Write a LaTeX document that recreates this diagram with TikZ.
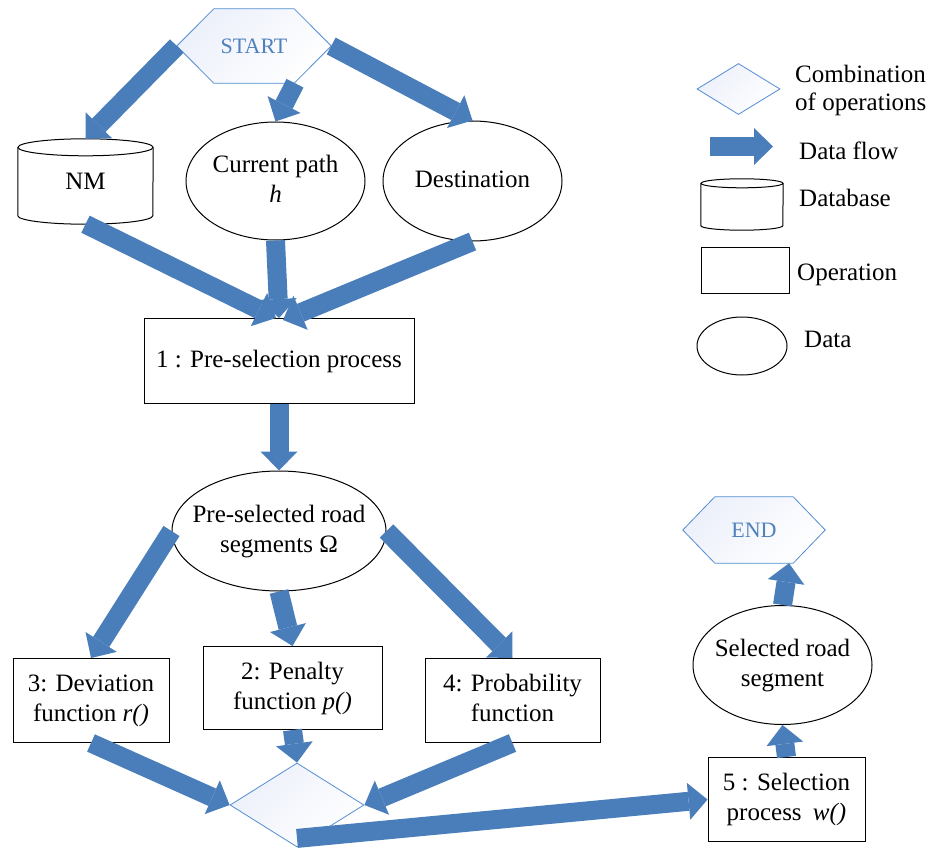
\documentclass[tikz,border=0pt]{standalone}
\usepackage{fontspec}
\setmainfont{Liberation Serif}
\usetikzlibrary{arrows.meta,shapes.geometric}

\definecolor{flowblue}{RGB}{74,126,187}
\definecolor{hexline}{RGB}{84,141,212}
\definecolor{hextext}{RGB}{79,129,189}
\definecolor{hexfill}{RGB}{236,240,250}

\pgfdeclarelayer{back}
\pgfsetlayers{back,main}

% centred multi-line text that does not widen its node
\newcommand\zw[1]{\makebox[0pt]{\begin{tabular}{@{}c@{}}#1\end{tabular}}}

% cylinder outline around a rectangular node: node, half width, cap radius
\newcommand\dbdraw[3]{%
  \draw[line width=1pt] ([yshift=-#3pt]#1.north west) -- ([yshift=#3pt]#1.south west)
    arc[start angle=180,end angle=360,x radius=#2,y radius=#3] -- ([yshift=-#3pt]#1.north east);
  \draw[line width=1pt] ([yshift=-#3pt]#1.north) ellipse[x radius=#2,y radius=#3];}

% pointed hexagon around a node: node, horizontal inset
\newcommand\hexdraw[2]{%
  \path[hexpath] (#1.west) -- ([xshift=#2pt]#1.north west) -- ([xshift=-#2pt]#1.north east)
    -- (#1.east) -- ([xshift=-#2pt]#1.south east) -- ([xshift=#2pt]#1.south west) -- cycle;}

\begin{document}
\begin{tikzpicture}[x=1pt,y=1pt,
  every node/.style={font=\fontsize{25}{30}\selectfont, inner sep=0pt},
  proc/.style={draw, line width=1pt, rectangle, fill=white},
  datum/.style={draw, line width=1pt, ellipse, fill=white},
  dbase/.style={rectangle, draw=none},
  hexnode/.style={rectangle, draw=none, text=hextext, font=\fontsize{22}{26}\selectfont},
  combo/.style={diamond, draw=hexline, line width=0.8pt, top color=hexfill, bottom color=white, shading angle=45},
  hexpath/.style={draw=hexline, line width=0.8pt, top color=hexfill, bottom color=white, shading angle=45},
  flow/.style={draw=flowblue, line width=19pt, -{Triangle[length=19pt,width=37pt,line width=0pt]}},
  legtext/.style={anchor=west, align=left, font=\fontsize{25}{28}\selectfont},
]
\useasboundingbox (0,0) rectangle (932,-848);
\begin{pgfonlayer}{back}
  \fill[white] (0,0) rectangle (932,-848);
\end{pgfonlayer}

% ---- main flow ----
\node[hexnode, minimum width=154pt, minimum height=74pt] (start) at (254,-46) {START};
\node[dbase, minimum width=135pt, minimum height=85pt] (nm) at (85.5,-181.5) {NM};
\node[datum, minimum width=179pt, minimum height=118pt] (cur) at (275.5,-181) {\zw{Current path\\\textit{h}}};
\node[datum, minimum width=179pt, minimum height=120pt] (dest) at (472.5,-181) {\zw{Destination}};
\node[proc, minimum width=270pt, minimum height=85pt] (sel1) at (279,-361) {1 : Pre-selection process};
\node[datum, minimum width=214pt, minimum height=120pt] (omega) at (279,-531) {\zw{Pre-selected road\\segments Ω}};
\node[proc, minimum width=156pt, minimum height=84pt] (dev) at (91,-700.5) {\zw{3: Deviation\\function \textit{r()}}};
\node[proc, minimum width=179pt, minimum height=83pt] (pen) at (292.5,-688) {\zw{2: Penalty\\function \textit{p()}}};
\node[proc, minimum width=175pt, minimum height=84pt] (prob) at (512.5,-700.5) {\zw{4: Probability\\function}};
\node[combo, minimum width=134pt, minimum height=84pt] (comb) at (297,-805) {};
\node[proc, minimum width=157pt, minimum height=84pt] (selp) at (786.5,-799.5) {\zw{5 : Selection\\process\hspace{0.45em}\textit{w()}}};
\node[datum, minimum width=179pt, minimum height=119pt] (seg) at (782.5,-665) {\zw{Selected road\\segment}};
\node[hexnode, minimum width=142pt, minimum height=66pt] (fin) at (754,-530) {END};

\begin{pgfonlayer}{back}
  \hexdraw{start}{37}
  \hexdraw{fin}{32}
\end{pgfonlayer}
\dbdraw{nm}{67.5}{8.5}

% ---- legend ----
\node[combo, minimum width=83pt, minimum height=51pt] (lgcomb) at (738.5,-89) {};
\node[legtext] (lgcombt) at (795,-90) {Combination\\of operations};
\coordinate (lgfa) at (710,-146.5);
\coordinate (lgfb) at (773,-146.5);
\node[legtext] (lgflowt) at (799,-151) {Data flow};
\node[dbase, minimum width=82pt, minimum height=51pt] (lgdb) at (742,-204.5) {};
\dbdraw{lgdb}{41}{4.5}
\node[legtext] (lgdbt) at (799,-198) {Database};
\node[proc, minimum width=88pt, minimum height=46pt] (lgop) at (745,-270) {};
\node[legtext] (lgopt) at (797,-275) {Operation};
\node[datum, minimum width=90pt, minimum height=58pt] (lgdat) at (742,-346) {};
\node[legtext] (lgdatt) at (804,-339) {Data};

% ---- data flows ----
\draw[flow] (start.west) -- (nm.north);
\draw[flow] ([xshift=41pt]start.south) -- (cur.north);
\draw[flow] (start.east) -- (dest.north);
\draw[flow] (nm.south) -- ([xshift=-3pt]sel1.north);
\draw[flow] (cur.south) -- (sel1.north);
\draw[flow] (dest.south) -- ([xshift=4pt,yshift=-2pt]sel1.north);
\draw[flow] (sel1.south) -- (omega.north);
\draw[flow] (omega.west) -- (dev.north);
\draw[flow] (omega.south) -- (pen.north);
\draw[flow] (omega.east) -- (prob.north);
\draw[flow] (dev.south) -- (comb.west);
\draw[flow] (pen.south) -- (comb.north);
\draw[flow] (prob.south) -- (comb.east);
\draw[flow] ([yshift=9pt]comb.south) -- (selp.west);
\draw[flow] (selp.north) -- (seg.south);
\draw[flow] (seg.north) -- ([xshift=35pt]fin.south);
\draw[flow] (lgfa) -- (lgfb);
\end{tikzpicture}
\end{document}
